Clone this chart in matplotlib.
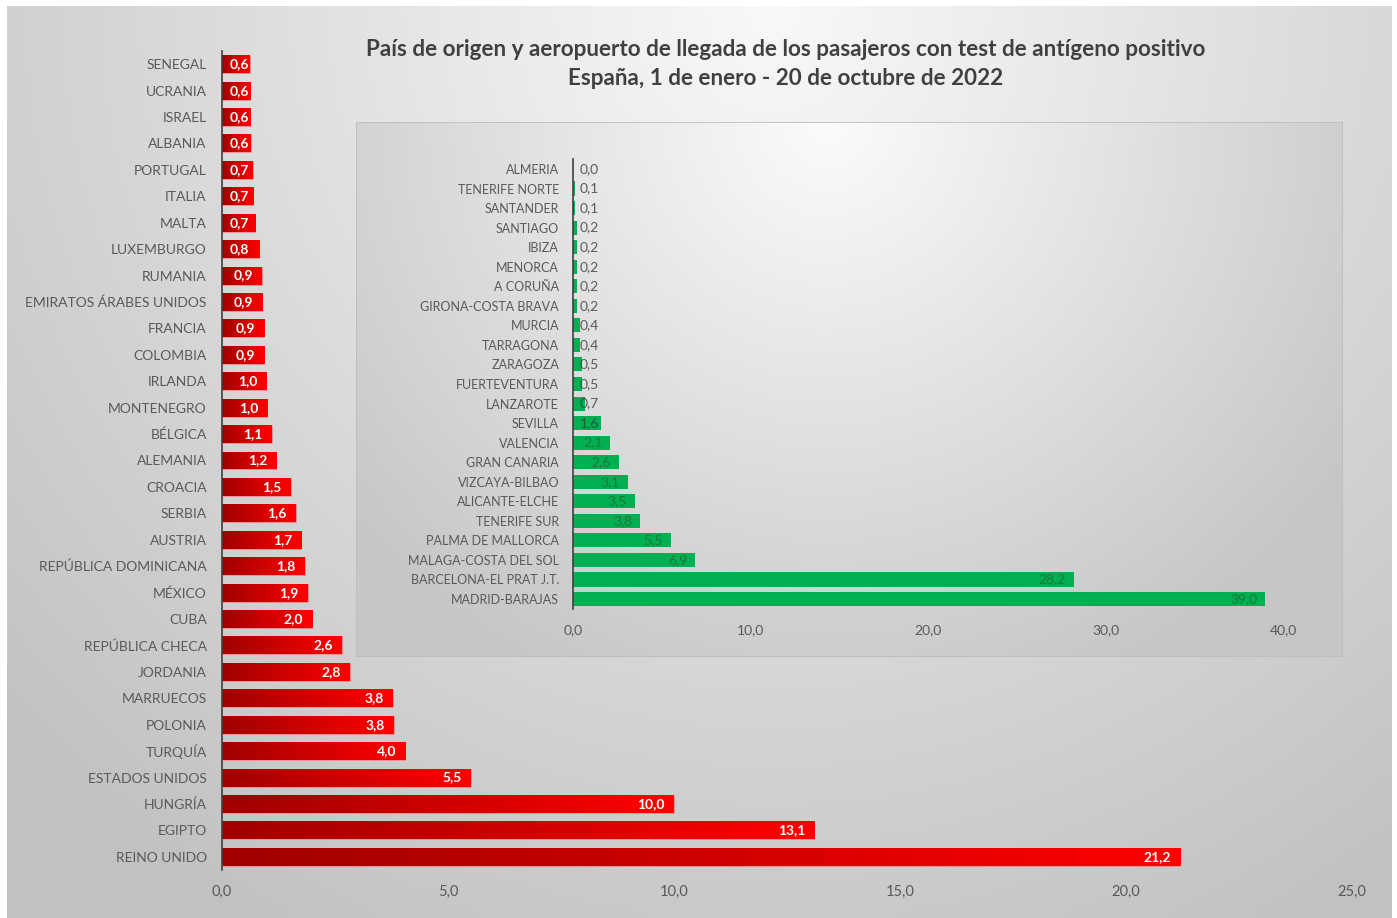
import numpy as np
import matplotlib
matplotlib.use("Agg")
import matplotlib.pyplot as plt
from matplotlib.colors import LinearSegmentedColormap

plt.rcParams['font.family'] = ['Lato', 'DejaVu Sans']

# ---------------- data ----------------
countries = ["SENEGAL", "UCRANIA", "ISRAEL", "ALBANIA", "PORTUGAL", "ITALIA", "MALTA",
             "LUXEMBURGO", "RUMANIA", "EMIRATOS ÁRABES UNIDOS", "FRANCIA", "COLOMBIA",
             "IRLANDA", "MONTENEGRO", "BÉLGICA", "ALEMANIA", "CROACIA", "SERBIA", "AUSTRIA",
             "REPÚBLICA DOMINICANA", "MÉXICO", "CUBA", "REPÚBLICA CHECA", "JORDANIA",
             "MARRUECOS", "POLONIA", "TURQUÍA", "ESTADOS UNIDOS", "HUNGRÍA", "EGIPTO",
             "REINO UNIDO"]
country_vals = [0.6, 0.6, 0.6, 0.6, 0.7, 0.7, 0.7, 0.8, 0.9, 0.9, 0.9, 0.9, 1.0, 1.0, 1.1,
                1.2, 1.5, 1.6, 1.7, 1.8, 1.9, 2.0, 2.6, 2.8, 3.8, 3.8, 4.0, 5.5, 10.0, 13.1,
                21.2]
# bar lengths as drawn (unrounded appearance)
country_len = [0.61, 0.62, 0.62, 0.64, 0.68, 0.69, 0.74, 0.82, 0.88, 0.89, 0.93, 0.93, 0.98,
               1.00, 1.10, 1.20, 1.52, 1.63, 1.75, 1.83, 1.90, 2.0, 2.65, 2.83, 3.78, 3.80,
               4.05, 5.50, 10.0, 13.1, 21.2]

airports = ["ALMERIA", "TENERIFE NORTE", "SANTANDER", "SANTIAGO", "IBIZA", "MENORCA",
            "A CORUÑA", "GIRONA-COSTA BRAVA", "MURCIA", "TARRAGONA", "ZARAGOZA",
            "FUERTEVENTURA", "LANZAROTE", "SEVILLA", "VALENCIA", "GRAN CANARIA",
            "VIZCAYA-BILBAO", "ALICANTE-ELCHE", "TENERIFE SUR", "PALMA DE MALLORCA",
            "MALAGA-COSTA DEL SOL", "BARCELONA-EL PRAT J.T.", "MADRID-BARAJAS"]
airport_vals = [0.0, 0.1, 0.1, 0.2, 0.2, 0.2, 0.2, 0.2, 0.4, 0.4, 0.5, 0.5, 0.7, 1.6, 2.1,
                2.6, 3.1, 3.5, 3.8, 5.5, 6.9, 28.2, 39.0]

main_ticks = [0, 5, 10, 15, 20, 25]
inset_ticks = [0, 10, 20, 30, 40]

title = ("País de origen y aeropuerto de llegada de los pasajeros con test de antígeno positivo\n"
         "España, 1 de enero - 20 de octubre de 2022")

W, H = 1397, 918
fig = plt.figure(figsize=(W / 100, H / 100), dpi=100)
fig.patch.set_facecolor("white")


def fr(x0, y0, x1, y1):
    """pixel box (top-left origin) -> figure fraction rect"""
    return [x0 / W, 1 - y1 / H, (x1 - x0) / W, (y1 - y0) / H]


def radial_bg(ax, w, h, cx, cy, c_in, c_out, scale):
    yy, xx = np.mgrid[0:h, 0:w]
    d = np.sqrt(((xx - cx) / scale[0]) ** 2 + ((yy - cy) / scale[1]) ** 2)
    d = np.clip(d, 0, 1)
    img = np.zeros((h, w, 3))
    for k in range(3):
        img[..., k] = c_in[k] + (c_out[k] - c_in[k]) * d
    ax.imshow(img, aspect="auto", extent=(0, 1, 0, 1), origin="upper", interpolation="bilinear")
    ax.set_xlim(0, 1)
    ax.set_ylim(0, 1)
    ax.axis("off")


# outer background
bg = fig.add_axes(fr(7, 6, 1392, 918), zorder=0)
radial_bg(bg, 200, 130, 110, 0, (0.975, 0.975, 0.975), (0.76, 0.76, 0.76), (150, 150))

# inset background box
ibg = fig.add_axes(fr(356, 122, 1343, 657), zorder=1)
radial_bg(ibg, 200, 110, 95, 0, (0.985, 0.985, 0.985), (0.78, 0.78, 0.78), (125, 125))
ibg.add_patch(plt.Rectangle((0, 0), 1, 1, transform=ibg.transAxes, fill=False,
                            edgecolor="#bdbdbd", lw=1.2))

# ---------------- main chart ----------------
ax = fig.add_axes(fr(222, 51, 1352, 870), zorder=2)
ax.patch.set_alpha(0)
ypos = np.arange(len(countries))
bars = ax.barh(ypos, country_len, height=0.68, color="#e00000", edgecolor="#ff9a9a",
               linewidth=0.6, zorder=2)
red_cmap = LinearSegmentedColormap.from_list("reds", ["#a00000", "#ff0000"])
grad = np.linspace(0, 1, 256).reshape(1, -1)
for b in bars:
    x0, y0 = b.get_x(), b.get_y()
    im = ax.imshow(grad, cmap=red_cmap, aspect="auto", zorder=3,
                   extent=(x0, x0 + b.get_width(), y0 + b.get_height(), y0),
                   interpolation="bilinear")
    im.set_clip_path(b)

ax.set_xlim(0, 25)
ax.set_ylim(len(countries) - 0.5, -0.5)
ax.set_yticks(ypos)
ax.set_yticklabels(countries)
ax.set_xticks(main_ticks)
ax.set_xticklabels([f"{t:.1f}".replace(".", ",") for t in main_ticks])
ax.tick_params(axis="y", length=0, pad=11, labelsize=10, labelcolor="#595959")
ax.tick_params(axis="x", length=0, pad=11, labelsize=10.5, labelcolor="#595959")
for s in ["top", "right", "bottom"]:
    ax.spines[s].set_visible(False)
ax.spines["left"].set_color("#404040")
ax.spines["left"].set_linewidth(1.2)
ax.spines["left"].set_zorder(5)

ppu = (1352 - 222) / 25.0  # pixels per unit
for b, v, L in zip(bars, country_vals, country_len):
    xr = L - 9 / ppu
    xl_min = 8 / ppu
    txt = f"{v:.1f}".replace(".", ",")
    t = ax.text(xr, b.get_y() + b.get_height() / 2, txt, ha="right", va="center",
                color="white", fontsize=10, fontweight="bold", zorder=6)
    if xr - 22 / ppu < xl_min:
        t.set_ha("left")
        t.set_x(xl_min)
    t.set_clip_path(b)

# ---------------- inset chart ----------------
ax2 = fig.add_axes(fr(573, 159.2, 1283, 608.8), zorder=3)
ax2.patch.set_alpha(0)
y2 = np.arange(len(airports))
bars2 = ax2.barh(y2, airport_vals, height=0.72, color="#00b050", zorder=2)
ax2.set_xlim(0, 40)
ax2.set_ylim(len(airports) - 0.5, -0.5)
ax2.set_yticks(y2)
ax2.set_yticklabels(airports)
ax2.set_xticks(inset_ticks)
ax2.set_xticklabels([f"{t:.1f}".replace(".", ",") for t in inset_ticks])
ax2.tick_params(axis="y", length=0, pad=10, labelsize=9, labelcolor="#595959")
ax2.tick_params(axis="x", length=0, pad=11, labelsize=10, labelcolor="#595959")
for s in ["top", "right", "bottom"]:
    ax2.spines[s].set_visible(False)
ax2.spines["left"].set_color("#404040")
ax2.spines["left"].set_linewidth(1.2)
ax2.spines["left"].set_zorder(5)

ppu2 = 710 / 40.0
for b, v in zip(bars2, airport_vals):
    txt = f"{v:.1f}".replace(".", ",")
    xr = v - 8 / ppu2
    xl_min = 7 / ppu2
    if xr - 22 / ppu2 < xl_min:
        ax2.text(xl_min, b.get_y() + b.get_height() / 2, txt, ha="left", va="center",
                 color="#3a3a3a", alpha=0.8, fontsize=10, zorder=6)
    else:
        ax2.text(xr, b.get_y() + b.get_height() / 2, txt, ha="right", va="center",
                 color="#2f4f2f", alpha=0.6, fontsize=10, zorder=6)

# ---------------- title ----------------
fig.text(786 / W, 1 - 64 / H, title, ha="center", va="center", fontsize=16.2,
         fontweight="bold", color="#404040", linespacing=1.42)

fig.savefig("out.png", dpi=100)
